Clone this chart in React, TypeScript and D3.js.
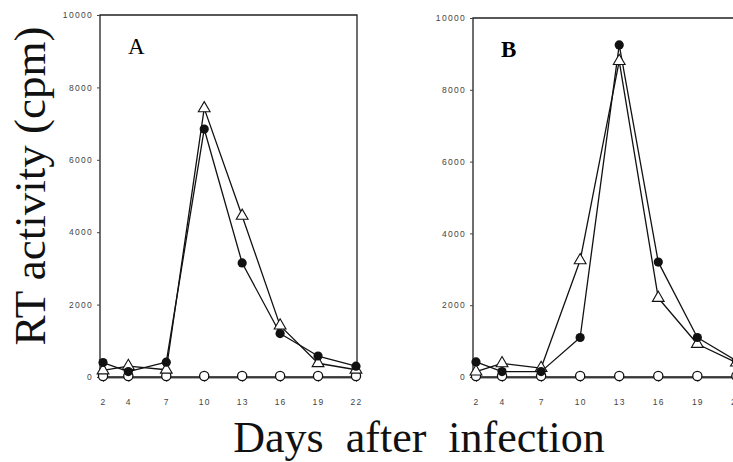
import React, { useRef, useEffect } from 'react'
import { select, scaleLinear, line, axisLeft, axisBottom, symbol, symbolTriangle, format } from 'd3'

const days = [2, 4, 7, 10, 13, 16, 19, 22]
const yTicks = [0, 2000, 4000, 6000, 8000, 10000]

// panel A
const aFilled = [400, 150, 410, 6850, 3150, 1200, 580, 300]
const aTriangle = [180, 300, 200, 7420, 4450, 1420, 380, 200]
const aOpen = [0, 0, 0, 0, 0, 0, 0, 0]

// panel B
const bFilled = [420, 150, 150, 1100, 9250, 3200, 1100, 450]
const bTriangle = [150, 380, 250, 3250, 8800, 2200, 920, 400]
const bOpen = [0, 0, 0, 0, 0, 0, 0, 0]

const W = 733
const H = 462

const panels = [
  { label: 'A', bold: false, x0: 100, x1: 357, top: 15, bottom: 377, dom: [1.76, 22.08], series: { filled: aFilled, tri: aTriangle, open: aOpen } },
  { label: 'B', bold: true, x0: 473, x1: 739, top: 18, bottom: 377, dom: [1.77, 22.2], series: { filled: bFilled, tri: bTriangle, open: bOpen } },
]

const App = () => {
  const svgRef = useRef(null)

  useEffect(() => {
    const svg = select(svgRef.current)
    svg.selectAll('*').remove()
    svg.attr('viewBox', [0, 0, W, H])

    panels.forEach(p => {
      const x = scaleLinear().domain(p.dom).range([p.x0, p.x1])
      const y = scaleLinear().domain([0, 10000]).range([p.bottom, p.top])
      const g = svg.append('g')

      // frame
      g.append('path')
        .attr('d', `M${p.x0},${p.bottom}V${p.top}H${p.x1}V${p.bottom}`)
        .attr('fill', 'none').attr('stroke', '#222').attr('stroke-width', 1.3)
      g.append('line')
        .attr('x1', p.x0).attr('x2', p.x1).attr('y1', p.bottom + 1).attr('y2', p.bottom + 1)
        .attr('stroke', '#555').attr('stroke-width', 1)

      g.append('g')
        .attr('transform', `translate(${p.x0},0)`)
        .call(axisLeft(y).tickValues(yTicks).tickSize(3).tickPadding(4).tickFormat(format('d')))
        .call(a => a.select('.domain').remove())
        .call(a => a.selectAll('line').attr('stroke', '#444'))
        .call(a => a.selectAll('text')
          .attr('font-family', 'Liberation Sans, Arial, sans-serif')
          .attr('font-size', 8.5).attr('letter-spacing', 1.3).attr('fill', '#444'))

      g.append('g')
        .attr('transform', `translate(0,${p.bottom + 2})`)
        .call(axisBottom(x).tickValues(days).tickSize(3).tickPadding(17).tickFormat(d => String(d)))
        .call(a => a.select('.domain').remove())
        .call(a => a.selectAll('line').attr('stroke', '#666'))
        .call(a => a.selectAll('text')
          .attr('font-family', 'Liberation Sans, Arial, sans-serif')
          .attr('font-size', 8.5).attr('letter-spacing', 1.2).attr('fill', '#444'))

      g.append('text')
        .attr('x', p.x0 + 28).attr('y', p.top + 39)
        .attr('font-family', 'Liberation Serif, Times New Roman, serif')
        .attr('font-size', 23).attr('font-weight', p.bold ? 'bold' : 'normal')
        .text(p.label)

      const ln = line<number>().x((d, i) => x(days[i])).y(d => y(d))
      const order = [p.series.open, p.series.tri, p.series.filled]
      order.forEach(s => {
        g.append('path').datum(s)
          .attr('fill', 'none').attr('stroke', '#111').attr('stroke-width', 1.3)
          .attr('stroke-linejoin', 'round').attr('d', ln)
      })

      g.selectAll('.open').data(p.series.open).join('circle')
        .attr('cx', (d, i) => x(days[i])).attr('cy', d => y(d) - 1).attr('r', 4.6)
        .attr('fill', '#fff').attr('stroke', '#111').attr('stroke-width', 1.3)

      g.selectAll('.tri').data(p.series.tri).join('path')
        .attr('transform', (d, i) => `translate(${x(days[i])},${y(d)})`)
        .attr('d', symbol(symbolTriangle, 60)())
        .attr('fill', '#fff').attr('stroke', '#111').attr('stroke-width', 1.1)

      g.selectAll('.filled').data(p.series.filled).join('circle')
        .attr('cx', (d, i) => x(days[i])).attr('cy', d => y(d)).attr('r', 4.6)
        .attr('fill', '#111')
    })

    svg.append('text')
      .attr('transform', 'translate(45,186) rotate(-90)')
      .attr('text-anchor', 'middle')
      .attr('font-family', 'Liberation Serif, Times New Roman, serif')
      .attr('font-size', 45).attr('fill', '#111')
      .text('RT activity (cpm)')

    svg.append('text')
      .attr('x', 419).attr('y', 452)
      .attr('text-anchor', 'middle')
      .attr('font-family', 'Liberation Serif, Times New Roman, serif')
      .attr('font-size', 44).attr('word-spacing', 11).attr('fill', '#111')
      .text('Days after infection')
  }, [])

  return (
    <div style={{ position: 'absolute', left: 0, top: 0, width: W, height: H, overflow: 'hidden', background: '#fff' }}>
      <svg ref={svgRef} width={W} height={H} style={{ display: 'block' }}></svg>
    </div>
  )
}

export default App
